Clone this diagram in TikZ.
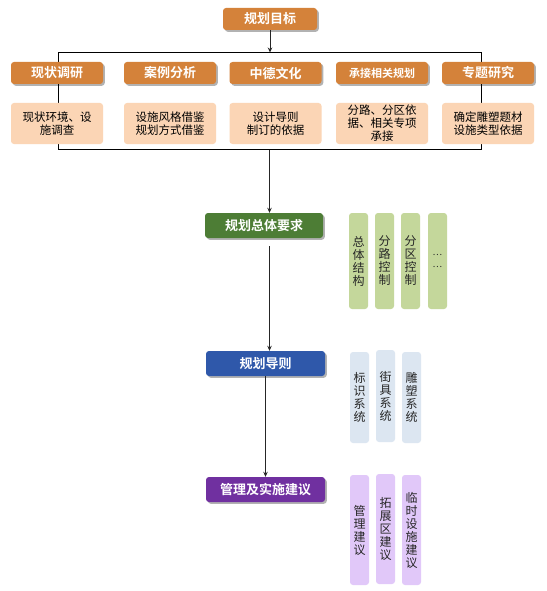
\documentclass[tikz,border=0pt]{standalone}
\usepackage{fontspec}
\setmainfont{Noto Sans CJK SC}[BoldFont={Noto Sans CJK SC Bold}]
\usetikzlibrary{arrows.meta,shadows,calc}
\definecolor{cOrange}{HTML}{D4823A}
\definecolor{cPeach}{HTML}{FBD5B5}
\definecolor{cGreen}{HTML}{4D7D35}
\definecolor{cLGreen}{HTML}{C4D79B}
\definecolor{cBlue}{HTML}{2F58AA}
\definecolor{cLBlue}{HTML}{DCE6F1}
\definecolor{cPurple}{HTML}{7030A0}
\definecolor{cLPurple}{HTML}{E1C8F9}
\begin{document}
\begin{tikzpicture}[x=1pt,y=-1pt,
  box/.style={rounded corners=3pt,inner sep=0pt,align=center},
  headbox/.style={box,fill=cOrange,text=white,font=\bfseries\fontsize{13}{15}\selectfont,
    minimum width=92pt,minimum height=22pt,
    drop shadow={shadow xshift=1.8pt,shadow yshift=-1.8pt,fill=black,opacity=0.3}},
  descbox/.style={box,fill=cPeach,text=black,font=\fontsize{11.5}{13}\selectfont,
    minimum width=92pt,minimum height=41pt},
  mainbox/.style={box,text=white,font=\bfseries\fontsize{13}{15}\selectfont,
    minimum width=118pt,minimum height=25pt,
    drop shadow={shadow xshift=1.8pt,shadow yshift=-1.8pt,fill=black,opacity=0.3}},
  sidebox/.style={box,text=black!85,font=\fontsize{12}{13}\selectfont,minimum width=19pt},
  arr/.style={draw=black!85,line width=0.9pt,-{Stealth[length=5pt,width=4.5pt]}},
  plain/.style={draw=black!85,line width=0.9pt}
]
\useasboundingbox (0,0) rectangle (546,591);
\fill[white] (0,0) rectangle (546,591);

% frame behind the research boxes
\node[draw=black,line width=1pt,minimum width=423pt,minimum height=96pt,inner sep=0pt] (frame) at (269.5,101) {};

\node[headbox,minimum width=94pt] (goal) at (270,19) {规划目标};

\node[headbox] (h1) at (57,73) {现状调研};
\node[headbox] (h2) at (170,73) {案例分析};
\node[headbox] (h3) at (275.5,73) {中德文化};
\node[headbox,font=\bfseries\fontsize{11}{13}\selectfont] (h4) at (382,73) {承接相关规划};
\node[headbox] (h5) at (488,73) {专题研究};

\node[descbox] (d1) at (57,123.5) {现状环境、设\\施调查};
\node[descbox] (d2) at (170,123.5) {设施风格借鉴\\规划方式借鉴};
\node[descbox] (d3) at (275.5,123.5) {设计导则\\制订的依据};
\node[descbox] (d4) at (382,123.5) {分路、分区依\\据、相关专项\\承接};
\node[descbox] (d5) at (488,123.5) {确定雕塑题材\\设施类型依据};

\node[mainbox,fill=cGreen] (green) at (264,225.5) {规划总体要求};
\node[mainbox,fill=cBlue,minimum width=119pt] (blue) at (265.5,363.5) {规划导则};
\node[mainbox,fill=cPurple,minimum width=119pt] (purple) at (265.5,489.5) {管理及实施建议};

% side boxes
\node[sidebox,fill=cLGreen,minimum height=96pt] (g1) at (358.5,261) {总\\体\\结\\构};
\node[sidebox,fill=cLGreen,minimum height=96pt] (g2) at (384.5,261) {分\\路\\控\\制};
\node[sidebox,fill=cLGreen,minimum height=96pt] (g3) at (410.5,261) {分\\区\\控\\制};
\node[sidebox,fill=cLGreen,minimum height=96pt,font=\fontsize{9}{12}\selectfont] (g4) at (437.5,261) {…\\…};

\node[sidebox,fill=cLBlue,minimum height=91pt] (b1) at (359.5,397.5) {标\\识\\系\\统};
\node[sidebox,fill=cLBlue,minimum height=92pt] (b2) at (385.5,396) {街\\具\\系\\统};
\node[sidebox,fill=cLBlue,minimum height=91pt] (b3) at (411.5,397.5) {雕\\塑\\系\\统};

\node[sidebox,fill=cLPurple,minimum height=110pt] (p1) at (359.5,530) {管\\理\\建\\议};
\node[sidebox,fill=cLPurple,minimum height=110pt] (p2) at (385.5,529) {拓\\展\\区\\建\\议};
\node[sidebox,fill=cLPurple,minimum height=110pt] (p3) at (411.5,530) {临\\时\\设\\施\\建\\议};

% connectors
\draw[arr] (goal.south) -- (goal.south |- frame.north);
\draw[arr] (frame.south) -- (frame.south |- green.north);
\coordinate (gstart) at ($(frame.south |- green.south)+(0,8)$);
\draw[arr] (gstart) -- (gstart |- blue.north);
\draw[arr] (blue.south) -- (purple.north);
\end{tikzpicture}
\end{document}
